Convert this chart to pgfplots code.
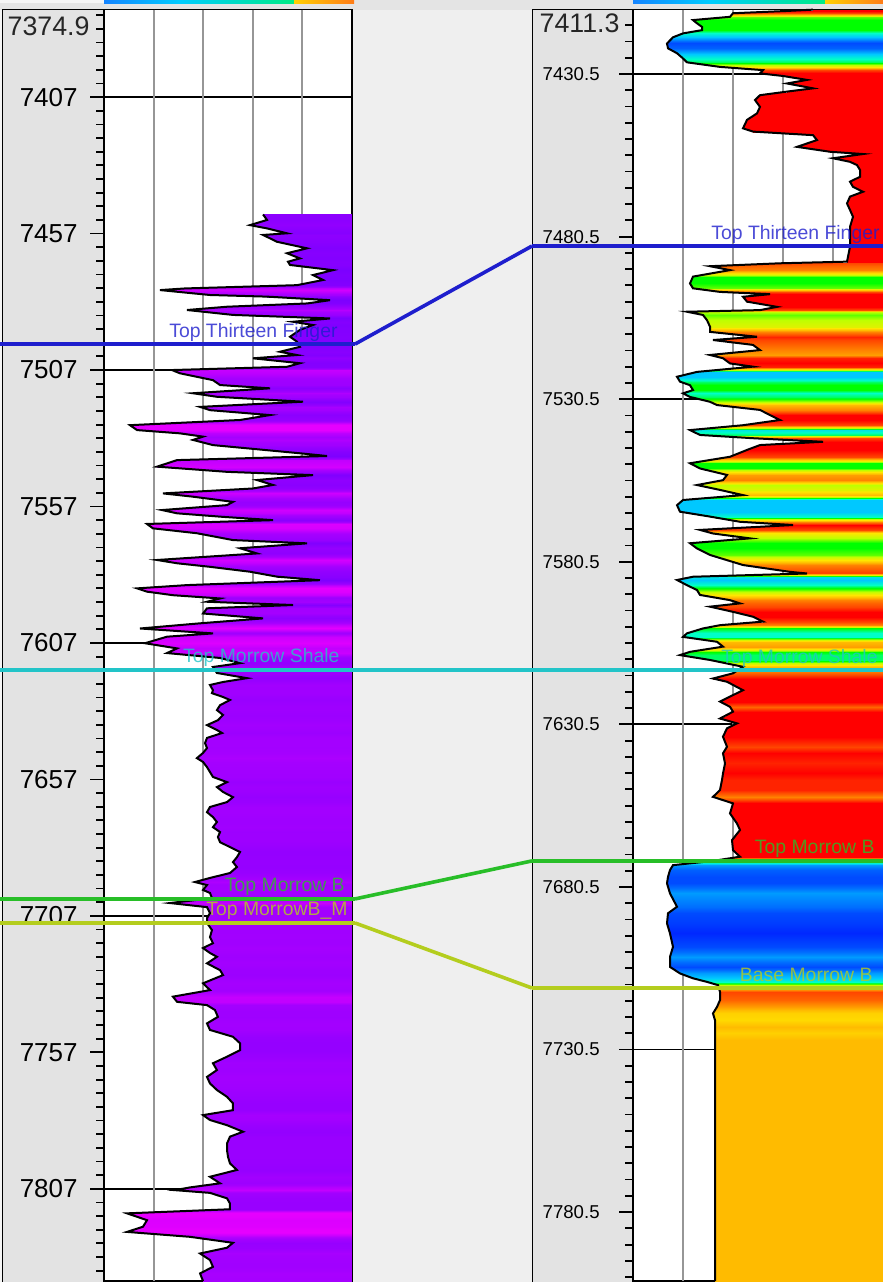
\documentclass[border=0pt]{standalone}
\usepackage{pgfplots}
\usepackage{pgfplotstable}
\pgfplotsset{compat=1.18}
\usepackage{fontspec}
\setmainfont{Liberation Sans}

\definecolor{bandbg}{RGB}{228,228,228}
\definecolor{depthbg}{RGB}{227,227,227}
\definecolor{gapbg}{RGB}{239,239,239}
\definecolor{gridgray}{RGB}{150,150,150}
\definecolor{tfblue}{RGB}{30,30,205}
\definecolor{mscyan}{RGB}{34,196,200}
\definecolor{mbgreen}{RGB}{40,190,40}
\definecolor{mbyellow}{RGB}{180,205,30}

\pgfdeclarehorizontalshading{hdrrain}{190bp}{rgb(0bp)=(0.6,0,1); rgb(40bp)=(0.2,0.1,1); rgb(90bp)=(0,0.8,1); rgb(140bp)=(0,1,0.2); rgb(190bp)=(0.7,1,0)}
\pgfdeclarehorizontalshading{hdrwarm}{60bp}{rgb(0bp)=(1,0.85,0); rgb(60bp)=(1,0.45,0.1)}

% Well A gamma ray: depth (ft), value (API)
\pgfplotstableread{
d v
7450.0 96.2
7452.0 98.6
7453.9 88.3
7455.1 98.6
7456.9 110.7
7457.5 96.2
7460.0 104.6
7462.4 122.8
7464.2 110.7
7466.1 118.5
7467.3 111.3
7468.5 112.5
7470.4 138.5
7472.2 126.4
7474.0 132.5
7475.9 116.7
7477.1 49.0
7477.7 33.9
7479.5 64.1
7480.1 98.6
7481.4 136.7
7482.6 122.8
7483.8 74.4
7485.0 50.2
7486.8 78.0
7488.1 136.7
7489.3 114.3
7490.5 126.4
7492.3 118.5
7494.8 112.5
7496.6 116.7
7498.5 118.5
7500.3 106.4
7501.5 116.7
7502.7 90.1
7504.5 118.5
7505.8 110.7
7507.0 41.1
7508.2 46.0
7510.7 65.9
7512.5 70.2
7513.7 100.4
7515.5 53.8
7516.8 68.3
7518.6 120.4
7520.5 58.1
7521.7 64.1
7523.5 100.4
7525.3 82.3
7527.2 15.7
7529.0 20.0
7530.2 46.0
7531.4 59.9
7532.6 53.8
7534.5 65.9
7537.5 118.5
7538.5 134.9
7540.0 44.2
7542.4 32.1
7544.3 74.4
7545.5 126.4
7547.3 92.5
7549.1 102.2
7550.4 90.1
7552.2 35.7
7553.4 53.8
7555.3 78.0
7556.5 74.4
7558.3 35.1
7559.5 44.2
7560.8 72.0
7562.0 102.2
7563.4 26.0
7565.0 29.6
7566.8 56.2
7569.3 78.0
7570.5 122.8
7572.3 82.3
7574.2 92.5
7576.6 32.1
7577.8 44.2
7579.1 64.1
7580.9 88.3
7582.7 104.6
7584.0 130.6
7585.8 50.2
7587.0 20.0
7588.2 26.0
7589.5 41.7
7590.7 70.2
7591.9 62.3
7593.1 114.3
7594.3 62.3
7596.2 59.9
7598.0 96.2
7599.8 58.1
7601.7 21.8
7603.5 65.9
7604.7 38.1
7607.1 24.8
7609.0 44.2
7610.7 38.1
7612.5 70.2
7614.4 82.3
7615.8 65.9
7618.0 68.3
7619.9 86.5
7621.3 72.0
7622.4 64.1
7624.3 65.9
7625.4 65.3
7626.8 72.0
7627.9 76.2
7629.8 70.2
7631.6 68.3
7633.4 72.0
7635.3 68.9
7637.1 62.3
7638.9 68.3
7640.0 71.4
7641.8 62.3
7643.7 61.1
7645.5 62.3
7647.3 59.9
7649.2 56.2
7650.6 59.9
7652.5 62.3
7654.3 64.1
7656.1 65.9
7658.0 74.4
7659.8 68.3
7661.6 72.0
7663.5 78.0
7665.3 74.4
7667.1 64.1
7669.0 62.3
7670.8 65.9
7672.6 68.3
7674.5 65.9
7676.3 70.2
7678.1 68.9
7680.0 70.2
7681.8 76.2
7683.6 82.3
7685.5 80.4
7687.3 78.0
7689.1 80.4
7691.3 76.2
7693.1 64.1
7694.6 55.0
7695.7 62.3
7697.5 59.9
7698.6 64.1
7700.5 65.3
7702.3 39.9
7703.8 62.3
7706.0 64.1
7707.8 62.3
7709.6 62.3
7712.2 65.3
7714.8 64.1
7717.0 65.9
7718.8 59.9
7720.6 64.1
7722.0 68.3
7724.4 62.3
7726.9 70.2
7728.7 72.0
7731.7 59.9
7734.2 64.1
7736.6 41.7
7738.5 44.2
7739.7 62.3
7741.5 67.1
7744.0 68.9
7746.4 62.3
7748.8 64.1
7751.3 78.0
7753.7 82.3
7756.2 82.3
7758.6 74.4
7761.0 65.9
7763.5 68.3
7766.0 62.3
7768.4 64.1
7770.8 68.3
7773.3 74.4
7775.7 78.0
7778.2 78.0
7780.0 59.9
7781.8 64.1
7783.7 74.4
7786.1 84.1
7787.9 76.2
7790.4 74.4
7792.8 74.4
7795.3 75.0
7797.7 76.2
7800.1 80.4
7802.6 64.1
7805.0 70.2
7806.5 52.0
7807.5 42.9
7808.5 64.1
7810.5 74.4
7812.4 76.2
7814.5 76.2
7816.0 13.9
7818.5 26.0
7820.9 23.6
7822.8 13.9
7824.6 52.0
7826.8 78.0
7828.6 74.4
7830.7 58.1
7833.1 64.1
7835.6 65.9
7838.0 58.1
7840.8 59.9
}\leftlog

% Well B gamma ray: depth (ft), value (API), fill class
\pgfplotstableread{
d v c
7410.7 108.0 10
7411.1 92.4 10
7411.8 60.0 9
7412.9 58.2 4.5
7413.9 36.0 4
7414.9 38.4 4
7416.0 41.4 4
7417.0 41.4 4
7418.0 30.0 3
7419.2 24.0 2
7421.1 20.4 0.5
7422.6 21.0 0.8
7424.1 26.4 1.8
7425.7 30.0 2.8
7426.9 32.4 3.5
7428.3 52.2 6
7429.3 78.0 9
7430.3 76.2 10
7431.1 90.0 10
7432.3 104.4 10
7433.4 92.4 10
7434.9 108.0 10
7435.9 92.4 10
7437.0 76.2 10
7438.5 73.2 10
7440.6 76.2 10
7442.6 74.4 10
7444.6 68.4 10
7447.2 66.0 10
7448.2 72.0 10
7449.3 108.0 10
7450.8 110.4 10
7452.9 98.4 10
7454.4 118.2 10
7455.1 138.0 10
7456.4 120.0 10
7457.5 130.2 10
7458.5 134.4 10
7460.0 136.2 10
7462.1 136.2 10
7463.6 130.2 10
7465.2 132.0 10
7466.7 138.0 10
7468.2 130.2 10
7470.3 128.4 10
7472.3 130.2 10
7474.4 132.0 10
7477.5 130.2 10
7483.6 130.2 10
7488.2 128.4 10
7488.7 88.2 9
7489.6 46.2 8.5
7490.8 58.2 8
7492.8 36.0 4
7494.9 34.2 4
7496.4 36.0 4.5
7497.5 52.2 9
7498.2 82.2 10
7499.0 66.0 10
7500.5 68.4 10
7502.1 86.4 10
7503.1 76.2 9
7503.6 32.4 5
7504.6 42.0 4.5
7506.2 44.4 5
7508.2 46.2 5.5
7509.8 46.2 8
7511.3 74.4 9.5
7512.3 48.0 9
7513.8 72.0 8.5
7515.4 76.2 8
7516.9 46.2 7.5
7517.9 54.0 9.5
7519.5 58.2 10
7520.5 72.0 9.5
7522.1 38.4 2
7523.6 26.4 2
7525.1 28.2 3.5
7526.2 34.2 4
7527.7 36.0 4
7528.7 30.0 3
7529.8 34.2 3.5
7531.3 46.2 5
7532.3 50.4 7
7533.8 76.2 8
7535.4 82.2 10
7536.9 88.2 10
7538.5 66.0 9
7540.0 34.2 2.5
7541.5 40.2 3.5
7542.5 72.0 9
7543.6 114.0 10
7544.6 76.2 10
7546.1 68.4 10
7548.2 58.2 9
7550.2 34.2 4
7551.8 40.2 4
7553.8 56.4 7.5
7555.4 54.0 8
7556.9 38.4 5
7558.4 52.2 5.5
7560.0 66.0 7
7561.5 30.0 2
7563.1 26.4 2
7565.1 28.2 2
7566.6 46.2 3
7568.2 64.2 8
7569.2 96.0 10
7570.7 40.2 9
7571.8 48.0 6
7573.3 70.2 5
7574.8 34.2 4
7576.4 38.4 4
7578.4 46.2 4.5
7580.0 56.4 6
7581.5 66.0 8
7583.6 94.2 9
7584.1 104.4 9
7585.1 36.0 2.5
7586.1 26.4 2
7587.7 32.4 3
7589.2 38.4 4.5
7590.7 40.2 6
7592.3 58.2 8
7593.3 64.2 8.5
7594.3 46.2 9
7595.9 60.0 10
7597.4 72.0 10
7598.9 78.0 9
7600.0 52.2 8
7601.0 42.0 4
7602.5 32.4 3
7603.6 30.0 3
7605.1 50.4 7
7606.6 54.0 7.5
7608.2 34.2 4
7609.2 28.2 3.5
7610.7 46.2 3.5
7612.8 66.0 7
7614.8 60.0 8.5
7616.4 48.0 10
7617.4 56.4 10
7620.0 66.0 10
7621.5 60.0 10
7623.5 52.2 10
7625.1 58.2 8.5
7626.6 60.0 10
7628.7 52.2 10
7630.2 62.4 10
7631.7 56.4 10
7634.3 54.0 10
7637.4 56.4 9
7639.4 54.0 10
7642.5 55.2 9.5
7645.6 54.0 10
7647.6 53.4 9.5
7650.7 52.2 9.5
7652.8 48.0 8
7654.8 60.0 10
7657.9 58.2 10
7661.0 62.4 10
7663.0 64.2 10
7666.1 59.4 10
7669.2 60.0 10
7671.2 64.2 10
7672.5 48.0 4
7673.8 24.0 1.5
7675.3 22.2 0.8
7677.4 21.0 0.5
7679.4 20.4 0.5
7682.5 22.2 1.5
7686.6 26.4 1
7688.6 21.0 0.5
7691.7 20.4 0.3
7694.8 22.2 0
7698.9 24.0 0.5
7702.0 22.2 1.5
7705.1 22.2 0.5
7707.1 28.2 1.5
7708.6 36.0 2
7709.7 44.4 3
7710.7 51.0 5
7712.8 52.2 9
7715.3 52.2 8.5
7717.4 50.4 7.5
7719.4 48.0 6.5
7721.5 49.2 6.3
7723.5 49.2 7
7725.5 49.2 6.5
7727.6 49.2 7
7746.1 49.2 7
7776.8 49.2 7
7801.7 49.2 7
}\rightlog

\pgfplotstablegetrowsof{\leftlog}\edef\nleft{\pgfplotsretval}
\pgfplotstablegetrowsof{\rightlog}\edef\nright{\pgfplotsretval}
% the filled area needs the curve edge and the track edge: two copies of each log
\pgfplotstablevertcat{\leftsurf}{\leftlog}
\pgfplotstablevertcat{\leftsurf}{\leftlog}
\pgfplotstablevertcat{\rightsurf}{\rightlog}
\pgfplotstablevertcat{\rightsurf}{\rightlog}

\tikzset{
  toplabel/.style={font=\fontsize{9.7pt}{11pt}\selectfont, anchor=base east, inner sep=0pt, yshift=3.5pt, text opacity=0.8},
  corr/.style={line width=1.8pt},
  vgrid/.style={gridgray, line width=0.9pt},
  px/.style={x=0.5pt, y=-0.5pt},
}
\pgfplotsset{
  logtrack/.style={
    scale only axis, y dir=reverse, clip=false,
    xmin=0, xmax=150,
    axis background/.style={fill=white},
    axis line style={black, line width=0.9pt},
    xtick=\empty,
    ymajorgrids, y grid style={black, line width=0.9pt},
    extra y tick style={grid=none},
    ytick pos=left, tick align=outside,
    major tick length=7pt, minor tick length=4pt,
    ytick style={black, line width=0.9pt},
    minor tick style={black, line width=0.9pt},
    scaled y ticks=false,
  },
}

\begin{document}
\begin{tikzpicture}
\path[use as bounding box] (0pt,0pt) rectangle (441.5pt,-641pt);
\clip (0pt,0pt) rectangle (441.5pt,-641pt);
\begin{scope}[px]
% header band
\fill[bandbg] (0,0) rectangle (883,9.5);
\fill[white!96!black] (0,0) rectangle (104,3);
\shade[shading=hdrrain] (104,0) rectangle (294,3);
\shade[shading=hdrwarm] (294,0) rectangle (354,3);
\shade[shading=hdrrain] (633,0) rectangle (825,3);
\shade[shading=hdrwarm] (825,0) rectangle (883,3);
% depth columns and gap between the wells
\fill[white!96!black] (0,9.5) rectangle (2,1282);
\fill[depthbg] (2,9.5) rectangle (104,1282);
\fill[gapbg] (352,9.5) rectangle (532,1282);
\fill[depthbg] (532,9.5) rectangle (633,1282);
\draw[black, line width=0.9pt] (2.5,1282) -- (2.5,9.5) -- (104,9.5);
\draw[black, line width=0.9pt] (532.5,1282) -- (532.5,9.5) -- (633,9.5);
\end{scope}

% ---------- well A ----------
\begin{axis}[logtrack,
  at={(52pt,-4.75pt)}, anchor=north west,
  width=124pt, height=635.75pt,
  ymin=7374.9, ymax=7840.8,
  ytick={7407,7507,7607,7707,7807},
  extra y ticks={7457,7557,7657,7757},
  minor ytick={7377,7382,...,7837},
  yticklabel style={anchor=east, inner sep=0pt, xshift=-6pt,
    font=\fontsize{13pt}{14pt}\selectfont,
    /pgf/number format/.cd, fixed, 1000 sep={}, assume math mode=true},
  colormap={gra}{rgb255(0cm)=(235,0,255) rgb255(2cm)=(228,0,255) rgb255(4cm)=(200,0,255) rgb255(6cm)=(165,0,255) rgb255(8cm)=(150,0,255) rgb255(11cm)=(135,0,255) rgb255(15cm)=(120,0,255)},
  point meta min=0, point meta max=150,
]
\addplot[vgrid] coordinates {(30,7374.9) (30,7840.8)};
\addplot[vgrid] coordinates {(60,7374.9) (60,7840.8)};
\addplot[vgrid] coordinates {(90,7374.9) (90,7840.8)};
\addplot[vgrid] coordinates {(120,7374.9) (120,7840.8)};
\addplot[surf, shader=interp, mesh/cols=\nleft, point meta=explicit]
  table[x expr={\coordindex<\nleft ? \thisrow{v} : 150}, y=d, meta=v] {\leftsurf};
\addplot[black, line width=1pt, skip coords between index={\nleft}{99999}]
  table[x=v, y=d] {\leftlog};
\addplot[tfblue, corr] coordinates {(-62.9,7497.5) (151.8,7497.5)};
\addplot[mscyan, corr] coordinates {(-62.9,7616.9) (151.8,7616.9)};
\addplot[mbgreen, corr] coordinates {(-62.9,7700.8) (151.8,7700.8)};
\addplot[mbyellow, corr] coordinates {(-62.9,7709.6) (151.8,7709.6)};
\coordinate (tfA) at (axis cs:151.8,7497.5);
\coordinate (msA) at (axis cs:151.8,7616.9);
\coordinate (mbA) at (axis cs:151.8,7700.8);
\coordinate (mmA) at (axis cs:151.8,7709.6);
\node[toplabel, text=tfblue] at (axis cs:141.5,7497.5) {Top Thirteen Finger};
\node[toplabel, text=mscyan] at (axis cs:142.7,7616.9) {Top Morrow Shale};
\node[toplabel, text=mbgreen] at (axis cs:145.8,7700.8) {Top Morrow B};
\node[toplabel, text=mbyellow] at (axis cs:147.6,7709.6) {Top MorrowB\_M};
\end{axis}

% ---------- well B ----------
\begin{axis}[logtrack,
  at={(316.5pt,-4.75pt)}, anchor=north west,
  width=125pt, height=635.75pt,
  ymin=7410.66, ymax=7801.7,
  ytick={7430.5,7530.5,7630.5,7730.5},
  extra y ticks={7480.5,7580.5,7680.5,7780.5},
  minor ytick={7415.5,7420.5,...,7800.5},
  yticklabel style={anchor=east, inner sep=0pt, xshift=-9.5pt,
    font=\fontsize{9.3pt}{11pt}\selectfont,
    /pgf/number format/.cd, fixed, fixed zerofill, precision=1, 1000 sep={}, assume math mode=true},
  colormap={facies}{rgb255(0cm)=(0,40,255) rgb255(1cm)=(0,110,255) rgb255(2cm)=(0,200,255) rgb255(3cm)=(0,255,200) rgb255(4cm)=(0,255,0) rgb255(5cm)=(190,255,0) rgb255(6cm)=(255,230,0) rgb255(7cm)=(255,187,0) rgb255(8cm)=(255,130,0) rgb255(9cm)=(255,70,0) rgb255(10cm)=(255,0,0)},
  point meta min=0, point meta max=10,
]
\addplot[vgrid] coordinates {(30,7410.66) (30,7801.7)};
\addplot[vgrid] coordinates {(60,7410.66) (60,7801.7)};
\addplot[vgrid] coordinates {(90,7410.66) (90,7801.7)};
\addplot[vgrid] coordinates {(120,7410.66) (120,7801.7)};
\addplot[surf, shader=interp, mesh/cols=\nright, point meta=explicit]
  table[x expr={\coordindex<\nright ? \thisrow{v} : 150}, y=d, meta=c] {\rightsurf};
\addplot[black, line width=1pt, skip coords between index={\nright}{99999}]
  table[x=v, y=d] {\rightlog};
\addplot[tfblue, corr] coordinates {(-60.6,7483.4) (150,7483.4)};
\addplot[mscyan, corr] coordinates {(-60.6,7613.8) (150,7613.8)};
\addplot[mbgreen, corr] coordinates {(-60.6,7672.5) (150,7672.5)};
\addplot[mbyellow, corr] coordinates {(-60.6,7711.6) (150,7711.6)};
\coordinate (tfB) at (axis cs:-60.6,7483.4);
\coordinate (msB) at (axis cs:-60.6,7613.8);
\coordinate (mbB) at (axis cs:-60.6,7672.5);
\coordinate (mmB) at (axis cs:-60.6,7711.6);
\node[toplabel, text=tfblue] at (axis cs:148.2,7483.4) {Top Thirteen Finger};
\node[toplabel, text=mscyan] at (axis cs:147,7613.8) {Top Morrow Shale};
\node[toplabel, text=mbgreen] at (axis cs:145.2,7672.5) {Top Morrow B};
\node[toplabel, text=mbyellow] at (axis cs:144,7711.6) {Base Morrow B};
\end{axis}

% correlation lines between the wells
\draw[tfblue, corr] (tfA) -- (tfB);
\draw[mscyan, corr] (msA) -- (msB);
\draw[mbgreen, corr] (mbA) -- (mbB);
\draw[mbyellow, corr] (mmA) -- (mmB);

% top depths of the two displays
\begin{scope}[px]
\node[anchor=east, inner sep=0pt, text=black!85, font=\fontsize{13.4pt}{15pt}\selectfont] at (90,26) {7374.9};
\node[anchor=east, inner sep=0pt, text=black!85, font=\fontsize{13.4pt}{15pt}\selectfont] at (620,23.5) {7411.3};
\end{scope}
\end{tikzpicture}
\end{document}
